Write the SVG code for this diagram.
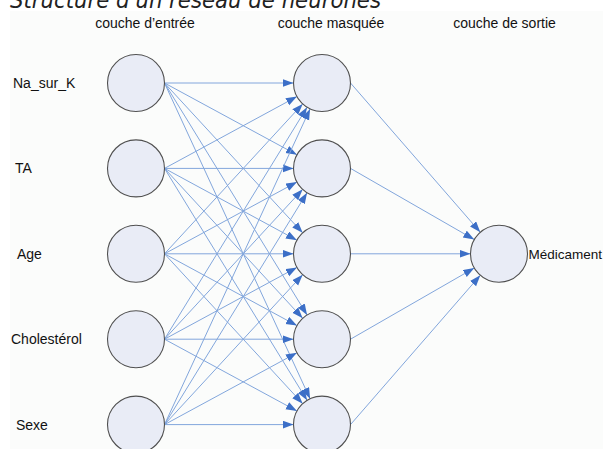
<svg xmlns="http://www.w3.org/2000/svg" width="603" height="449" viewBox="0 0 603 449">
<style>
.t{font-family:"Liberation Sans",Arial,sans-serif;font-size:14px;fill:#111}
.h{text-anchor:middle}
.n{fill:#e9ecf6;stroke:#505050;stroke-width:1.1}
.e{stroke:#82a6dc;stroke-width:1;fill:none;marker-end:url(#ah)}
</style>
<defs>
<marker id="ah" markerUnits="userSpaceOnUse" markerWidth="12" markerHeight="9" refX="11" refY="4" orient="auto">
<path d="M0,0 L11,4 L0,8 z" fill="#3c6fc7"/>
</marker>
</defs>
<rect x="0" y="0" width="603" height="449" fill="#ffffff"/>
<rect x="10" y="11" width="593" height="438" fill="#fbfcfb"/>
<text x="10" y="7.5" font-family="'DejaVu Sans',Verdana,sans-serif" font-size="23" font-style="italic" fill="#222" textLength="371" lengthAdjust="spacingAndGlyphs">Structure d'un réseau de neurones</text>
<g id="headers">
<text class="t h" x="145" y="27.5">couche d’entrée</text>
<text class="t h" x="331" y="27.5">couche masquée</text>
<text class="t h" x="504.5" y="27.5">couche de sortie</text>
</g>
<g id="connectors">
<line class="e" x1="164.5" y1="83" x2="293.5" y2="83"/>
<line class="e" x1="164.5" y1="83" x2="296.95" y2="154.81"/>
<line class="e" x1="164.5" y1="83" x2="302.68" y2="232.85"/>
<line class="e" x1="164.5" y1="83" x2="307.07" y2="314.92"/>
<line class="e" x1="164.5" y1="83" x2="310.07" y2="398.72"/>
<line class="e" x1="164.5" y1="168.4" x2="296.95" y2="96.59"/>
<line class="e" x1="164.5" y1="168.4" x2="293.5" y2="168.4"/>
<line class="e" x1="164.5" y1="168.4" x2="296.95" y2="240.21"/>
<line class="e" x1="164.5" y1="168.4" x2="302.68" y2="318.25"/>
<line class="e" x1="164.5" y1="168.4" x2="307.07" y2="400.32"/>
<line class="e" x1="164.5" y1="253.8" x2="302.68" y2="103.95"/>
<line class="e" x1="164.5" y1="253.8" x2="296.95" y2="181.99"/>
<line class="e" x1="164.5" y1="253.8" x2="293.5" y2="253.8"/>
<line class="e" x1="164.5" y1="253.8" x2="296.95" y2="325.61"/>
<line class="e" x1="164.5" y1="253.8" x2="302.68" y2="403.65"/>
<line class="e" x1="164.5" y1="339.2" x2="307.07" y2="107.28"/>
<line class="e" x1="164.5" y1="339.2" x2="302.68" y2="189.35"/>
<line class="e" x1="164.5" y1="339.2" x2="296.95" y2="267.39"/>
<line class="e" x1="164.5" y1="339.2" x2="293.5" y2="339.2"/>
<line class="e" x1="164.5" y1="339.2" x2="296.95" y2="411.01"/>
<line class="e" x1="164.5" y1="424.6" x2="310.07" y2="108.88"/>
<line class="e" x1="164.5" y1="424.6" x2="307.07" y2="192.68"/>
<line class="e" x1="164.5" y1="424.6" x2="302.68" y2="274.75"/>
<line class="e" x1="164.5" y1="424.6" x2="296.95" y2="352.79"/>
<line class="e" x1="164.5" y1="424.6" x2="293.5" y2="424.6"/>
<line class="e" x1="350.5" y1="83" x2="480.3" y2="232.29"/>
<line class="e" x1="350.5" y1="168.4" x2="474.29" y2="239.59"/>
<line class="e" x1="350.5" y1="253.8" x2="470.5" y2="253.8"/>
<line class="e" x1="350.5" y1="339.2" x2="474.29" y2="268.01"/>
<line class="e" x1="350.5" y1="424.6" x2="480.3" y2="275.31"/>
</g>
<g id="in1"><circle class="n" cx="136" cy="83" r="28.5"/><text class="t" x="13" y="88">Na_sur_K</text></g>
<g id="in2"><circle class="n" cx="136" cy="168.4" r="28.5"/><text class="t" x="15" y="173.4">TA</text></g>
<g id="in3"><circle class="n" cx="136" cy="253.8" r="28.5"/><text class="t" x="17" y="258.8">Age</text></g>
<g id="in4"><circle class="n" cx="136" cy="339.2" r="28.5"/><text class="t" x="11" y="344.2">Cholestérol</text></g>
<g id="in5"><circle class="n" cx="136" cy="424.6" r="28.5"/><text class="t" x="16" y="429.6">Sexe</text></g>
<g id="hid1"><circle class="n" cx="322" cy="83" r="28.5"/></g>
<g id="hid2"><circle class="n" cx="322" cy="168.4" r="28.5"/></g>
<g id="hid3"><circle class="n" cx="322" cy="253.8" r="28.5"/></g>
<g id="hid4"><circle class="n" cx="322" cy="339.2" r="28.5"/></g>
<g id="hid5"><circle class="n" cx="322" cy="424.6" r="28.5"/></g>
<g id="out"><circle class="n" cx="499" cy="253.8" r="28.5"/><text class="t" x="528.5" y="258.6" style="font-size:13.5px">Médicament</text></g>
</svg>
